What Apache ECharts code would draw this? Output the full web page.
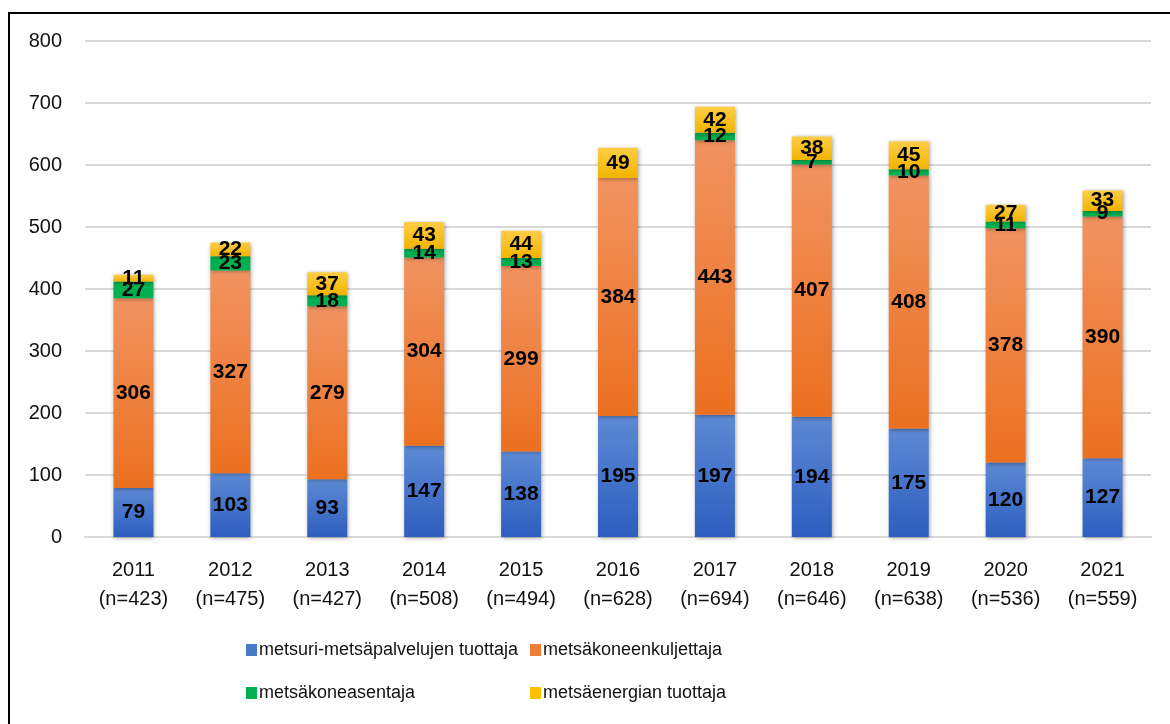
<!DOCTYPE html>
<html>
<head>
<meta charset="utf-8">
<script src="https://cdn.jsdelivr.net/npm/echarts@6/dist/echarts.min.js"></script>
<style>
  html, body { margin: 0; padding: 0; background: #fff; overflow: hidden; }
  #chart { width: 1170px; height: 724px; }
  /* kehys, oikea ja alareuna jäävät kuvan ulkopuolelle */
  .frame {
    position: absolute; left: 8px; top: 12px;
    width: 1300px; height: 900px;
    border: 2px solid #000; pointer-events: none;
  }
</style>
</head>
<body>
<div id="chart"></div>
<div class="frame"></div>
<script>
// vuodet ja vastaajamäärät
const years = ['2011', '2012', '2013', '2014', '2015', '2016', '2017', '2018', '2019', '2020', '2021']
const counts = [423, 475, 427, 508, 494, 628, 694, 646, 638, 536, 559]

// sarjat
const metsuri = [79, 103, 93, 147, 138, 195, 197, 194, 175, 120, 127]
const kuljettaja = [306, 327, 279, 304, 299, 384, 443, 407, 408, 378, 390]
const asentaja = [27, 23, 18, 14, 13, 0, 12, 7, 10, 11, 9]
const energia = [11, 22, 37, 43, 44, 49, 42, 38, 45, 27, 33]

const seriesNames = [
  'metsuri-metsäpalvelujen tuottaja',
  'metsäkoneenkuljettaja',
  'metsäkoneasentaja',
  'metsäenergian tuottaja'
]

const FONT = '"Liberation Sans", Arial, sans-serif'

const grad = (top, bottom) => new echarts.graphic.LinearGradient(0, 0, 0, 1, [
  { offset: 0, color: top },
  { offset: 1, color: bottom }
])

const makeSeries = (name, data, fill) => ({
  name: name,
  type: 'bar',
  stack: 'total',
  barWidth: 40,
  data: data,
  itemStyle: {
    color: fill,
    shadowColor: 'rgba(0,0,0,0.35)',
    shadowBlur: 4,
    shadowOffsetX: 1,
    shadowOffsetY: 1
  },
  label: {
    show: true,
    position: 'inside',
    color: '#000',
    fontFamily: FONT,
    fontWeight: 'bold',
    fontSize: 21,
    formatter: p => (p.value ? p.value : '')
  }
})

const legendAt = (name, left, top, iconColor) => ({
  data: [{ name: name, itemStyle: { color: iconColor } }],
  left: left,
  top: top,
  icon: 'rect',
  itemWidth: 11,
  itemHeight: 12,
  itemGap: 0,
  padding: 0,
  textStyle: { fontFamily: FONT, fontSize: 18, color: '#111', padding: [0, 0, 0, -3] },
  selectedMode: false
})

const chart = echarts.init(document.getElementById('chart'))

chart.setOption({
  animation: false,
  grid: { left: 85, right: 19, top: 41, bottom: 187 },
  legend: [
    legendAt(seriesNames[0], 246, 641, '#4a78c9'),
    legendAt(seriesNames[1], 530, 641, '#ee7d35'),
    legendAt(seriesNames[2], 246, 684, '#00b050'),
    legendAt(seriesNames[3], 530, 684, '#ffc000')
  ],
  xAxis: {
    type: 'category',
    data: years,
    axisTick: { show: false },
    axisLine: { lineStyle: { color: '#d9d9d9', width: 2 } },
    axisLabel: {
      margin: 19,
      fontFamily: FONT,
      fontSize: 20,
      color: '#111',
      lineHeight: 29,
      formatter: (v, i) => v + '\n(n=' + counts[i] + ')'
    }
  },
  yAxis: {
    type: 'value',
    min: 0,
    max: 800,
    interval: 100,
    axisLine: { show: false },
    axisTick: { show: false },
    axisLabel: {
      margin: 23,
      fontFamily: FONT,
      fontSize: 20,
      color: '#111'
    },
    splitLine: { lineStyle: { color: '#d9d9d9', width: 2 } }
  },
  series: [
    makeSeries(seriesNames[0], metsuri, grad('#5d89d4', '#2d5ebf')),
    makeSeries(seriesNames[1], kuljettaja, grad('#f19360', '#eb7020')),
    makeSeries(seriesNames[2], asentaja, '#00b050'),
    makeSeries(seriesNames[3], energia, grad('#ffcd45', '#f2b400'))
  ]
})
</script>
</body>
</html>
